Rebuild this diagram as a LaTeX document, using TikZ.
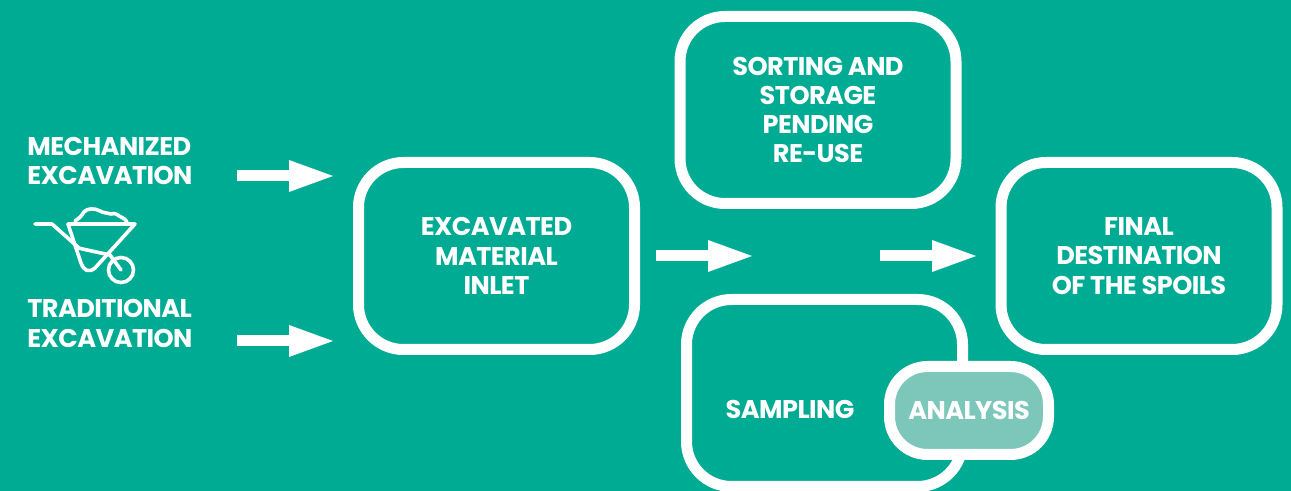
\documentclass[tikz,border=0pt]{standalone}
\usepackage{fontspec}
\setmainfont{Poppins}[BoldFont={Poppins Bold},BoldFeatures={LetterSpace=-2.2}]
\usetikzlibrary{arrows.meta}
\definecolor{bgteal}{HTML}{00AB94}
\definecolor{softteal}{HTML}{7CC7B9}
\tikzset{
  flowbox/.style={draw=white,line width=5.5pt,rounded corners=22.5pt,minimum width=138pt,minimum height=93.5pt,inner sep=0pt,align=center,text=white,font=\fontsize{12.8}{14.6}\selectfont\bfseries},
  label text/.style={text=white,inner sep=0pt,align=left,font=\fontsize{12.8}{14.6}\selectfont\bfseries},
  bigarrow/.style={draw=white,line width=5.5pt,-{Triangle[length=22pt,width=16pt,line width=0pt,fill=white]}},
  barrow/.style={draw=white,line width=1.8pt,line cap=round,line join=round}
}
\begin{document}
\begin{tikzpicture}[x=0.5pt,y=-0.5pt]
\fill[bgteal] (0,0) rectangle (1291,491);
\useasboundingbox (0,0) rectangle (1291,491);
\node[flowbox] (inlet) at (496.5,256) {EXCAVATED\\MATERIAL\\INLET};
\node[flowbox] (sorting) at (818,110) {SORTING AND\\STORAGE\\PENDING\\RE-USE};
\node[flowbox] (final) at (1139,256) {FINAL\\DESTINATION\\OF THE SPOILS};
\node[flowbox] (sampling) at (824.5,393) {};
\node[label text,anchor=center] (samplingtext) at (790,409) {SAMPLING};
\node[flowbox,fill=softteal,minimum width=79.5pt,minimum height=44pt,rounded corners=19pt] (analysis) at (969,410.5) {ANALYSIS};
\node[label text,anchor=west] (mech) at (27,161) {MECHANIZED\\EXCAVATION};
\node[label text,anchor=west] (trad) at (27,323.5) {TRADITIONAL\\EXCAVATION};
\coordinate (a1s) at (237,176); \coordinate (a1e) at (333,176);
\coordinate (a2s) at (237,341); \coordinate (a2e) at (333,341);
\coordinate (a3s) at (656,256); \coordinate (a3e) at (752,256);
\coordinate (a4s) at (880,256); \coordinate (a4e) at (976,256);
\draw[bigarrow] (a1s) -- (a1e);
\draw[bigarrow] (a2s) -- (a2e);
\draw[bigarrow] (a3s) -- (a3e);
\draw[bigarrow] (a4s) -- (a4e);
% wheelbarrow
\draw[barrow] (35,224) -- (52,224) -- (79,248);
\draw[barrow] (68,224) -- (135,224) -- (95,268) .. controls (89,273) and (84,271) .. (81,263) -- (68,224);
\draw[barrow] (78,248) -- (110,255) -- (121,270);
\draw[barrow] (121,270) circle (12.5);
\draw[barrow] (75,221) .. controls (80,218) and (82,215) .. (84,212) .. controls (87,208) and (95,208) .. (100,211) .. controls (103,213) and (108,213) .. (111,214) .. controls (116,212) and (118,216) .. (121,217) .. controls (124,218) and (126,220) .. (127,222);
\end{tikzpicture}
\end{document}
